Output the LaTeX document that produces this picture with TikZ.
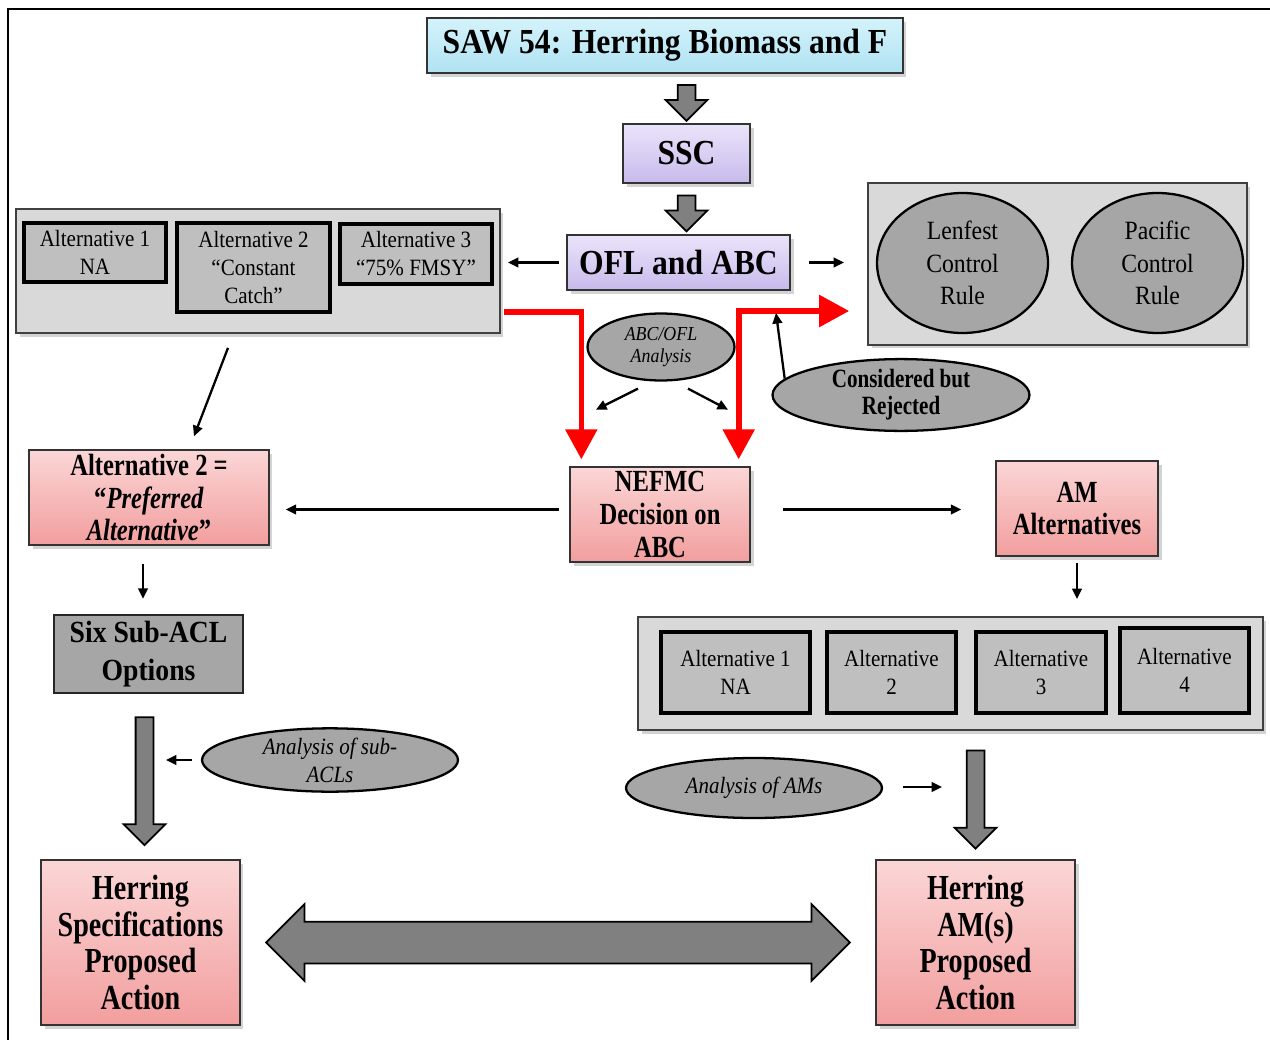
\documentclass[tikz,border=0pt]{standalone}
\usepackage{fontspec}
\setmainfont{Liberation Serif}
\newfontfamily\semifont{Liberation Serif}[FakeStretch=0.9]
\newfontfamily\condfont{Liberation Serif}[FakeStretch=0.8]
\usepackage{xcolor}
\usetikzlibrary{shapes.geometric,shapes.arrows,arrows.meta,positioning,calc,shadows}

\definecolor{sawtop}{RGB}{212,243,251}
\definecolor{sawbot}{RGB}{176,226,242}
\definecolor{lavtop}{RGB}{234,228,250}
\definecolor{lavbot}{RGB}{200,186,236}
\definecolor{pinktop}{RGB}{251,214,214}
\definecolor{pinkbot}{RGB}{242,158,158}

\begin{document}
\begin{tikzpicture}[
    x=0.02cm, y=-0.02cm,
    boxshadow/.style={drop shadow={shadow xshift=2pt, shadow yshift=-2pt, opacity=0.35}},
    titlebox/.style={rectangle, draw=black!80, line width=1pt, top color=sawtop, bottom color=sawbot, minimum width=9.52cm, minimum height=1.1cm, font=\semifont\bfseries\fontsize{20}{22}\selectfont, boxshadow},
    lavbox/.style={rectangle, draw=black!80, line width=1pt, top color=lavtop, bottom color=lavbot, font=\semifont\bfseries\fontsize{20}{22}\selectfont, boxshadow},
    panel/.style={rectangle, draw=black!75, line width=1pt, fill=black!15, boxshadow},
    altbox/.style={rectangle, draw=black, line width=1.8pt, fill=black!25, align=center, inner sep=0pt, font=\semifont\fontsize{13.3}{15.9}\selectfont},
    pinkbox/.style={rectangle, draw=black!80, line width=0.8pt, top color=pinktop, bottom color=pinkbot, align=center, inner sep=0pt, font=\condfont\bfseries\fontsize{17.5}{18.7}\selectfont, boxshadow},
    greybox/.style={rectangle, draw=black!85, line width=1.3pt, fill=black!35, align=center, inner sep=0pt, font=\semifont\bfseries\fontsize{17.5}{21.5}\selectfont},
    oval/.style={ellipse, draw=black, line width=1.3pt, fill=black!35, align=center, inner sep=0pt},
    arr/.style={-{Triangle[length=6pt, width=5.5pt]}, line width=1.3pt},
    redarr/.style={-{Triangle[length=0.6cm, width=0.62cm]}, line width=3.2pt, red},
    redboth/.style={redarr, {Triangle[length=0.6cm, width=0.62cm]}-{Triangle[length=0.6cm, width=0.62cm]}},
    fatarr/.style={single arrow, draw=black, line width=1pt, fill=black!50, inner xsep=0pt, inner ysep=0.16cm, single arrow head extend=0.24cm},
  ]
    \useasboundingbox (0,0) rectangle (1270,1040);

    % Frame
    \draw[line width=1.7pt] (8,1040) -- (8,9) -- (1270,9);

    % --- Top chain ---
    \node[titlebox] (saw) at (665,45.5) {SAW 54: Herring Biomass and F};
    \node[lavbox, minimum width=2.54cm, minimum height=1.18cm] (ssc) at (686.5,153.5) {SSC};
    \node[lavbox, minimum width=4.46cm, minimum height=1.1cm] (ofl) at (678.5,262.5) {OFL and ABC};
    \node[fatarr, rotate=-90, minimum height=0.72cm] (f1) at ($(ssc.north)!0.5!(ssc.north |- saw.south)$) {};
    \node[fatarr, rotate=-90, minimum height=0.72cm] (f2) at ($(ssc.south)!0.5!(ssc.south |- ofl.north)$) {};

    % --- Specification alternatives (left) ---
    \node[panel, minimum width=9.68cm, minimum height=2.48cm] (lpanel) at (258,271) {};
    \node[altbox, minimum width=2.84cm, minimum height=1.18cm] (la1) at (95,252.5) {Alternative 1\\NA};
    \node[altbox, minimum width=3.06cm, minimum height=1.78cm] (la2) at (253.5,267.5) {Alternative 2\\“Constant\\Catch”};
    \node[altbox, minimum width=3.04cm, minimum height=1.2cm] (la3) at (416,254) {Alternative 3\\“75\% FMSY”};

    % --- Control rules (right) ---
    \node[panel, minimum width=7.58cm, minimum height=3.24cm] (rpanel) at (1057.5,264) {};
    \node[oval, minimum width=3.42cm, minimum height=2.8cm, font=\semifont\fontsize{15}{18.4}\selectfont] (lenf) at (962.5,263) {Lenfest\\Control\\Rule};
    \node[oval, minimum width=3.42cm, minimum height=2.8cm, font=\semifont\fontsize{15}{18.4}\selectfont] (paci) at (1157.5,263) {Pacific\\Control\\Rule};

    \draw[arr] ($(ofl.west)+(-7,0)$) -- ($(lpanel.east |- ofl.west)+(7,0)$);
    \draw[arr] ($(ofl.east)+(18,0)$) -- ($(rpanel.west |- ofl.east)+(-23,0)$);

    % --- Analysis ---
    \node[oval, minimum width=2.94cm, minimum height=1.34cm, font=\semifont\itshape\fontsize{11.3}{13}\selectfont] (abc) at (661,347) {ABC/OFL\\Analysis};
    \node[oval, minimum width=5.14cm, minimum height=1.14cm, font=\condfont\bfseries\fontsize{15}{15.3}\selectfont] (cbr) at (901,395) {Considered but\\Rejected};
    \node[pinkbox, minimum width=3.6cm, minimum height=1.9cm] (nefmc) at (660,514.5) {NEFMC\\Decision on\\ABC};

    \draw[redarr] ($(lpanel.south east)+(3,-22)$) -| ($(nefmc.north west)+(12,-7)$);
    \draw[redboth] ($(nefmc.north east)+(-12,-7)$) |- ($(rpanel.west)+(-18,47)$);
    \coordinate (rej) at (776,313);
    \draw[arr] (cbr.172) -- (rej);
    \draw[arr] ($(abc.south)+(-23,7)$) -- ++(-42,21);
    \draw[arr] ($(abc.south)+(27,7)$) -- ++(40,21);

    % --- Council decision ---
    \node[pinkbox, minimum width=4.8cm, minimum height=1.9cm] (pref) at (149,497.5) {Alternative 2 =\\“\textit{Preferred}\\\textit{Alternative}”};
    \node[pinkbox, minimum width=3.24cm, minimum height=1.9cm] (amalt) at (1077,508.5) {AM\\Alternatives};

    \draw[arr] ($(lpanel.south)+(-30,14)$) -- ($(pref.north)+(45,-13)$);
    \draw[arr] ($(nefmc.west)+(-10,-5)$) -- ($(pref.east |- nefmc.west)+(16,-5)$);
    \draw[arr] ($(nefmc.east)+(32,-5)$) -- ($(amalt.west |- nefmc.east)+(-34,-5)$);

    % --- Sub-ACL branch (left) ---
    \node[greybox, minimum width=3.78cm, minimum height=1.56cm] (six) at (148.5,654) {Six Sub-ACL\\Options};
    \node[oval, minimum width=5.12cm, minimum height=1.2cm, font=\semifont\itshape\fontsize{13.3}{16}\selectfont] (asub) at (330,760) {Analysis of sub-\\ACLs};
    \node[pinkbox, minimum width=3.98cm, minimum height=3.3cm, font=\condfont\bfseries\fontsize{20}{21}\selectfont] (hspec) at (140.5,942.5) {Herring\\Specifications\\Proposed\\Action};

    \draw[arr, shorten <=0.36cm, shorten >=0.3cm] ($(pref.south)+(-6,0)$) -- ($(pref.south |- six.north)+(-6,0)$);
    \node[fatarr, rotate=-90, minimum height=2.56cm] (f3) at ($(six.south)!0.5!(hspec.north)$) {};
    \draw[arr] ($(asub.west)+(-9,0)$) -- ++(-26,0);

    % --- AM branch (right) ---
    \node[panel, minimum width=12.5cm, minimum height=2.26cm] (ampanel) at (950.5,673.5) {};
    \node[altbox, minimum width=2.98cm, minimum height=1.62cm] (ra1) at (735.5,672.5) {Alternative 1\\NA};
    \node[altbox, minimum width=2.58cm, minimum height=1.62cm] (ra2) at (891.5,672.5) {Alternative\\2};
    \node[altbox, minimum width=2.6cm, minimum height=1.62cm] (ra3) at (1041,672.5) {Alternative\\3};
    \node[altbox, minimum width=2.58cm, minimum height=1.7cm] (ra4) at (1184.5,670.5) {Alternative\\4};
    \node[oval, minimum width=5.12cm, minimum height=1.2cm, font=\semifont\itshape\fontsize{13.3}{16}\selectfont] (aams) at (754,788) {Analysis of AMs};
    \node[pinkbox, minimum width=3.98cm, minimum height=3.3cm, font=\condfont\bfseries\fontsize{20}{21}\selectfont] (hams) at (975.5,942.5) {Herring\\AM(s)\\Proposed\\Action};

    \draw[arr, shorten <=0.12cm, shorten >=0.34cm] (amalt.south) -- (amalt.south |- ampanel.north);
    \node[fatarr, rotate=-90, minimum height=1.96cm] (f4) at ($(hams.north)!0.5!(hams.north |- ampanel.south)$) {};
    \draw[arr] ($(aams.east)+(20,-1)$) -- ++(39,0);

    % Link between proposed actions
    \node[double arrow, draw=black, line width=1pt, fill=black!50, minimum height=11.68cm, inner xsep=0pt, inner ysep=0.4cm, double arrow head extend=0.35cm] (link) at ($(hspec.east)!0.5!(hams.west)$) {};
  \end{tikzpicture}
\end{document}
